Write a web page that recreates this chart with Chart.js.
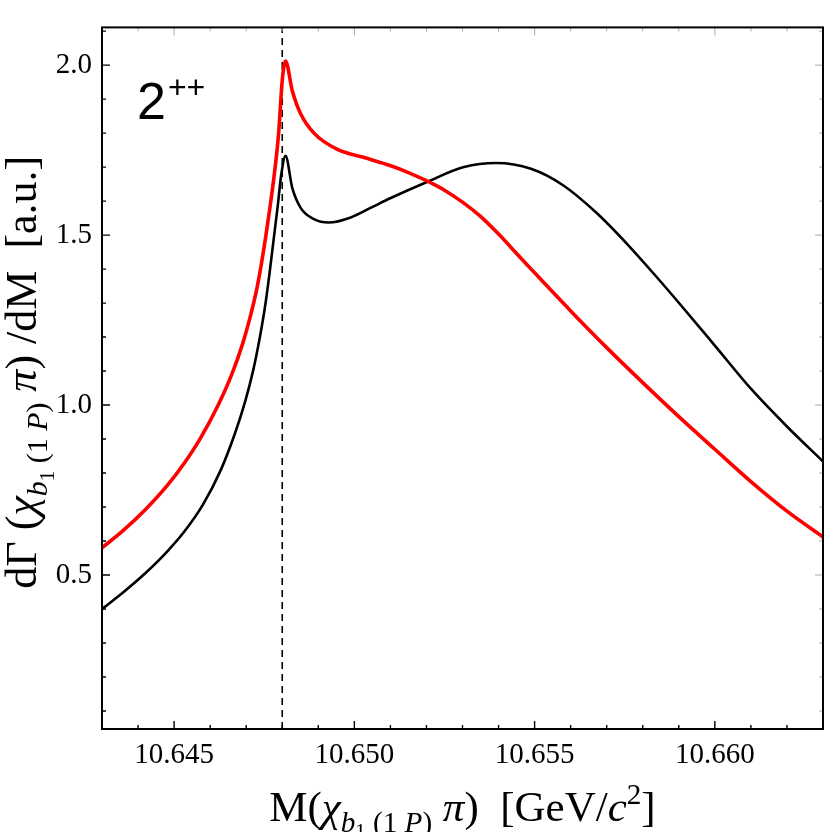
<!DOCTYPE html>
<html>
<head>
<meta charset="utf-8">
<script src="https://cdn.jsdelivr.net/npm/chart.js@4.4.1/dist/chart.umd.min.js"></script>
<style>
  html, body { margin: 0; padding: 0; background: #fff; }
  #wrap { width: 834px; height: 832px; }
</style>
</head>
<body>
<div id="wrap"><canvas id="chart" width="834" height="832"></canvas></div>
<script>
// ---------- data ----------
// red curve
const massRed = [10.6430, 10.6436, 10.6442, 10.6448, 10.6453, 10.6457, 10.6462, 10.6466,
                 10.6469, 10.6471, 10.6473, 10.64746, 10.64763, 10.64777, 10.64790, 10.64800,
                 10.64809, 10.64828, 10.64851, 10.64888, 10.64953, 10.65027, 10.65101, 10.6515,
                 10.6520, 10.6525, 10.6530, 10.6535, 10.6540, 10.6545, 10.6550, 10.6560,
                 10.6570, 10.6580, 10.6590, 10.6600, 10.6610, 10.6620, 10.6630];
const rateRed = [0.580, 0.632, 0.692, 0.762, 0.832, 0.897, 0.995, 1.090,
                 1.180, 1.255, 1.345, 1.440, 1.560, 1.670, 1.800, 1.955,
                 2.012, 1.924, 1.857, 1.800, 1.752, 1.728, 1.704, 1.684,
                 1.660, 1.632, 1.597, 1.555, 1.503, 1.446, 1.389, 1.277,
                 1.169, 1.066, 0.966, 0.870, 0.775, 0.688, 0.612];

// black curve
const massBlack = [10.6430, 10.6436, 10.6442, 10.6448, 10.6453, 10.6458, 10.6463, 10.64668,
                   10.64697, 10.64720, 10.64738, 10.64753, 10.64765, 10.64776, 10.64787, 10.64797,
                   10.64809, 10.64828, 10.64851, 10.64888, 10.64929, 10.64990, 10.65045, 10.65101,
                   10.65203, 10.65304, 10.65393, 10.6549, 10.6558, 10.6567, 10.6576, 10.6583,
                   10.6590, 10.6600, 10.6610, 10.6620, 10.6630];
const rateBlack = [0.400, 0.450, 0.505, 0.568, 0.630, 0.707, 0.810, 0.914,
                   1.010, 1.105, 1.200, 1.295, 1.390, 1.486, 1.581, 1.676,
                   1.733, 1.638, 1.580, 1.547, 1.537, 1.552, 1.580, 1.609,
                   1.657, 1.700, 1.712, 1.695, 1.646, 1.567, 1.470, 1.387,
                   1.301, 1.175, 1.048, 0.937, 0.834];

// threshold (dashed)
const thresholdMass = 10.648;

// axes
const xRange = [10.643, 10.663];
const yRange = [0.047, 2.111];
const xTickValues = [10.645, 10.650, 10.655, 10.660];
const yTickValues = [0.5, 1.0, 1.5, 2.0];
const xMinorStep = 0.001;
const yMinorStep = 0.1;

const panelLabel = '2';
const panelLabelSup = '++';

// ---------- helpers ----------
const SERIF = "'Liberation Serif', 'Times New Roman', serif";

function pts(xs, ys) {
    return xs.map((x, i) => ({ x: x, y: ys[i] }));
}

function seg(t, it, s, dy) {
    return { t: t, it: !!it, s: s || 1, dy: dy || 0 };
}

// subscript "b1 (1 P)" after chi
function chiSub() {
    return [
        seg('\u03C7', true),
        seg('b', true, 0.68, 0.26),
        seg('1', false, 0.48, 0.40),
        seg(' (1 ', false, 0.68, 0.26),
        seg('P', true, 0.68, 0.26),
        seg(')', false, 0.68, 0.26)
    ];
}

const xTitle = [seg('M(')].concat(chiSub(), [
    seg(' \u03C0', true), seg(')  [GeV/'), seg('c', true), seg('2', false, 0.68, -0.40), seg(']')
]);
const yTitle = [seg('d\u0393 (')].concat(chiSub(), [
    seg(' \u03C0', true), seg(') /dM  [a.u.]')
]);

function segFont(s, size) {
    return (s.it ? 'italic ' : '') + (size * s.s).toFixed(1) + 'px ' + SERIF;
}

function richWidth(ctx, segs, size) {
    let w = 0;
    segs.forEach(s => { ctx.font = segFont(s, size); w += ctx.measureText(s.t).width; });
    return w;
}

function drawRich(ctx, segs, size, x, y) {
    segs.forEach(s => {
        ctx.font = segFont(s, size);
        ctx.fillText(s.t, x, y + s.dy * size);
        x += ctx.measureText(s.t).width;
    });
}

// ---------- frame, ticks, titles ----------
const framePlugin = {
    id: 'frame',
    afterDatasetsDraw(chart) {
        const ctx = chart.ctx;
        const a = chart.chartArea;
        const xs = chart.scales.x, ys = chart.scales.y;
        ctx.save();

        // minor + major ticks, bottom/left dark, top/right light
        const xTicks = [], yTicks = [];
        for (let v = Math.ceil(xRange[0] / xMinorStep - 1e-6) * xMinorStep; v <= xRange[1] + 1e-9; v += xMinorStep) {
            const major = xTickValues.some(t => Math.abs(t - v) < 1e-7);
            xTicks.push({ p: xs.getPixelForValue(v), major: major });
        }
        for (let v = Math.ceil(yRange[0] / yMinorStep - 1e-6) * yMinorStep; v <= yRange[1] + 1e-9; v += yMinorStep) {
            const major = yTickValues.some(t => Math.abs(t - v) < 1e-7);
            yTicks.push({ p: ys.getPixelForValue(v), major: major });
        }

        ctx.lineWidth = 1.4;
        ctx.strokeStyle = '#000';
        ctx.beginPath();
        xTicks.forEach(t => {
            const len = t.major ? 8 : 4;
            ctx.moveTo(t.p, a.bottom); ctx.lineTo(t.p, a.bottom - len);
        });
        yTicks.forEach(t => {
            const len = t.major ? 8 : 4;
            ctx.moveTo(a.left, t.p); ctx.lineTo(a.left + len, t.p);
        });
        ctx.stroke();

        ctx.strokeStyle = '#aaa';
        ctx.lineWidth = 1;
        ctx.beginPath();
        xTicks.forEach(t => {
            const len = t.major ? 8 : 4;
            ctx.moveTo(t.p, a.top); ctx.lineTo(t.p, a.top + len);
        });
        yTicks.forEach(t => {
            const len = t.major ? 8 : 4;
            ctx.moveTo(a.right, t.p); ctx.lineTo(a.right - len, t.p);
        });
        ctx.stroke();

        // frame
        ctx.strokeStyle = '#000';
        ctx.lineWidth = 2;
        ctx.strokeRect(a.left, a.top, a.right - a.left, a.bottom - a.top);

        // panel label 2++
        ctx.fillStyle = '#000';
        ctx.textBaseline = 'alphabetic';
        ctx.textAlign = 'left';
        ctx.font = "52px 'Liberation Sans', Arial, sans-serif";
        ctx.fillText(panelLabel, a.left + 35, a.top + 92);
        const w2 = ctx.measureText(panelLabel).width;
        ctx.font = "32px 'Liberation Sans', Arial, sans-serif";
        ctx.fillText(panelLabelSup, a.left + 35 + w2 + 2, a.top + 71);

        // axis titles
        const wx = richWidth(ctx, xTitle, 43);
        drawRich(ctx, xTitle, 43, (a.left + a.right) / 2 - wx / 2, 821);

        const wy = richWidth(ctx, yTitle, 44);
        ctx.translate(36, (a.top + a.bottom) / 2 - 6);
        ctx.rotate(-Math.PI / 2);
        drawRich(ctx, yTitle, 44, -wy / 2, 0);

        ctx.restore();
    }
};

// ---------- chart ----------
const ctx = document.getElementById('chart').getContext('2d');

const chart = new Chart(ctx, {
    type: 'line',
    data: {
        datasets: [
            {
                label: 'red',
                data: pts(massRed, rateRed),
                borderColor: '#ff0000',
                borderWidth: 3.6,
                pointRadius: 0,
                cubicInterpolationMode: 'monotone',
                order: 1
            },
            {
                label: 'black',
                data: pts(massBlack, rateBlack),
                borderColor: '#000000',
                borderWidth: 2.6,
                pointRadius: 0,
                cubicInterpolationMode: 'monotone',
                order: 2
            },
            {
                label: 'threshold',
                data: [{ x: thresholdMass, y: yRange[0] }, { x: thresholdMass, y: yRange[1] }],
                borderColor: '#000000',
                borderWidth: 1.6,
                borderDash: [7, 5],
                pointRadius: 0,
                order: 3
            }
        ]
    },
    options: {
        responsive: false,
        animation: false,
        events: [],
        layout: { padding: { top: 8, right: 11, left: 0, bottom: 0 } },
        plugins: {
            legend: { display: false },
            tooltip: { enabled: false }
        },
        scales: {
            x: {
                type: 'linear',
                min: xRange[0], max: xRange[1],
                grid: { display: false, drawTicks: false },
                border: { display: false },
                afterBuildTicks: s => { s.ticks = xTickValues.map(v => ({ value: v })); },
                afterFit: s => { s.height = 103; },
                ticks: {
                    color: '#000',
                    padding: 9,
                    maxRotation: 0,
                    font: { family: SERIF, size: 29 },
                    callback: v => Number(v).toFixed(3)
                }
            },
            y: {
                type: 'linear',
                min: yRange[0], max: yRange[1],
                grid: { display: false, drawTicks: false },
                border: { display: false },
                afterBuildTicks: s => { s.ticks = yTickValues.map(v => ({ value: v })); },
                afterFit: s => { s.width = 102; },
                ticks: {
                    color: '#000',
                    padding: 10,
                    font: { family: SERIF, size: 29 },
                    callback: v => Number(v).toFixed(1)
                }
            }
        }
    },
    plugins: [framePlugin]
});
</script>
</body>
</html>
